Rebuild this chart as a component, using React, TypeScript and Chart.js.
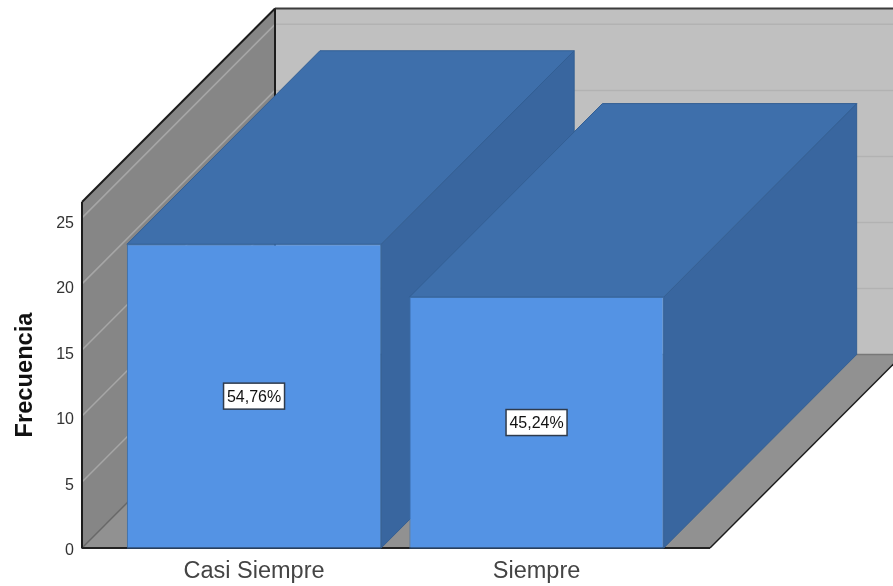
import React, { useEffect, useRef } from "react";
import { Chart, registerables } from "chart.js";

Chart.register(...registerables);

const categories = ["Casi Siempre", "Siempre"];
const frequencies = [23, 19];
const percentLabels = ["54,76%", "45,24%"];
const frequencyTicks = [0, 5, 10, 15, 20, 25];

const DEPTH_X = 193;
const DEPTH_Y = 193.5;
const FONT = "'Liberation Sans', Arial, sans-serif";

function fillPoly(ctx: CanvasRenderingContext2D, pts: number[][], fill: string, stroke?: string, lw = 1) {
  ctx.beginPath();
  pts.forEach(([x, y], i) => (i ? ctx.lineTo(x, y) : ctx.moveTo(x, y)));
  ctx.closePath();
  ctx.fillStyle = fill;
  ctx.fill();
  if (stroke) {
    ctx.strokeStyle = stroke;
    ctx.lineWidth = lw;
    ctx.stroke();
  }
}

function line(ctx: CanvasRenderingContext2D, x1: number, y1: number, x2: number, y2: number, color: string, lw: number) {
  ctx.beginPath();
  ctx.moveTo(x1, y1);
  ctx.lineTo(x2, y2);
  ctx.strokeStyle = color;
  ctx.lineWidth = lw;
  ctx.stroke();
}

// Draws the box the bars stand in, and the top and side faces of each bar.
const depthPlugin = {
  id: "depthPlugin",
  afterLayout(chart: any) {
    // Frequency labels sit slightly below their grid lines, more so higher up.
    chart.scales.y.getLabelItems().forEach((item: any) => {
      item.options.translation[1] += 2.6 + 0.13 * Number(item.label);
    });
  },
  beforeDatasetsDraw(chart: any) {
    const { ctx, chartArea, scales } = chart;
    const { left, right, top, bottom } = chartArea;
    const dx = DEPTH_X;
    const dy = DEPTH_Y;
    ctx.save();
    fillPoly(ctx, [[left + dx, top - dy], [right + dx, top - dy], [right + dx, bottom - dy], [left + dx, bottom - dy]], "#c0c0c0");
    fillPoly(ctx, [[left, bottom], [left, top], [left + dx, top - dy], [left + dx, bottom - dy]], "#868686");
    fillPoly(ctx, [[left, bottom], [left + dx, bottom - dy], [right + dx, bottom - dy], [right, bottom]], "#919191");

    frequencyTicks.slice(1).forEach((v) => {
      const y = scales.y.getPixelForValue(v);
      line(ctx, left, y, left + dx, y - dy, "#a6a6a6", 1.5);
      line(ctx, left + dx, y - dy, right + dx, y - dy, "#b2b2b2", 1.5);
    });
    line(ctx, left, bottom, left + dx, bottom - dy, "#686868", 1.5);
    line(ctx, left + dx, bottom - dy, right + dx, bottom - dy, "#787878", 1.5);

    line(ctx, left, top, left + dx, top - dy, "#1c1c1c", 2);
    line(ctx, left + dx, top - dy, right + dx, top - dy, "#3c3c3c", 2);
    line(ctx, left + dx, top - dy, left + dx, bottom - dy, "#1c1c1c", 2);
    line(ctx, left, bottom + 0.5, left, top, "#1c1c1c", 2);
    line(ctx, right, bottom, right + dx, bottom - dy, "#1c1c1c", 1.5);
    line(ctx, left, bottom, right, bottom, "#222222", 2);

    chart.getDatasetMeta(0).data.forEach((bar: any) => {
      const x0 = bar.x - bar.width / 2;
      const x1 = bar.x + bar.width / 2;
      const edge = "#335f94";
      fillPoly(ctx, [[x1, bar.y], [x1 + dx, bar.y - dy], [x1 + dx, bar.base - dy], [x1, bar.base]], "#39669f", edge);
      fillPoly(ctx, [[x0, bar.y], [x1, bar.y], [x1 + dx, bar.y - dy], [x0 + dx, bar.y - dy]], "#3e6fab", edge);
    });
    ctx.restore();
  },
  afterDatasetsDraw(chart: any) {
    const { ctx } = chart;
    ctx.save();
    chart.getDatasetMeta(0).data.forEach((bar: any, i: number) => {
      line(ctx, bar.x - bar.width / 2, bar.base, bar.x + bar.width / 2, bar.base, "#2c4a70", 1.5);

      const cy = (bar.y + bar.base) / 2;
      const w = 61;
      const h = 26;
      ctx.fillStyle = "#ffffff";
      ctx.fillRect(bar.x - w / 2, cy - h / 2, w, h);
      ctx.strokeStyle = "#2f3b4c";
      ctx.lineWidth = 1.5;
      ctx.strokeRect(bar.x - w / 2, cy - h / 2, w, h);
      ctx.font = `16px ${FONT}`;
      ctx.textAlign = "center";
      ctx.textBaseline = "middle";
      ctx.fillStyle = "#111111";
      ctx.fillText(percentLabels[i], bar.x, cy + 1);
    });
    ctx.restore();
  },
};

export default function App() {
  const ref = useRef<HTMLCanvasElement>(null);
  useEffect(() => {
    const chart = new Chart(ref.current!, {
      type: "bar",
      data: {
        datasets: [
          {
            data: categories.map((_, i) => ({ x: i + 1, y: frequencies[i] })),
            backgroundColor: "#5493e4",
            borderColor: "#3d6ea8",
            borderWidth: 1,
            barPercentage: 0.9,
            categoryPercentage: 1,
          },
        ],
      },
      options: {
        responsive: false,
        animation: false,
        layout: { padding: { top: 202, right: 183, left: 0, bottom: 0 } },
        plugins: { legend: { display: false }, tooltip: { enabled: false } },
        scales: {
          x: {
            type: "linear",
            offset: false,
            min: 0.391,
            max: 2.614,
            grid: { display: false },
            border: { display: false },
            afterBuildTicks: (s: any) => {
              s.ticks = categories.map((_, i) => ({ value: i + 1 }));
            },
            afterFit: (s: any) => {
              s.height = 38;
            },
            ticks: {
              autoSkip: false,
              maxRotation: 0,
              padding: 1,
              color: "#444444",
              font: { family: FONT, size: 23.5 },
              callback: (v: any) => categories[Number(v) - 1],
            },
          },
          y: {
            min: 0,
            max: 26.2,
            grid: { display: false },
            border: { display: false },
            afterFit: (s: any) => {
              s.width = 82;
            },
            ticks: {
              stepSize: 5,
              includeBounds: false,
              padding: 0,
              color: "#333333",
              font: { family: FONT, size: 16 },
            },
            title: {
              display: true,
              text: "Frecuencia",
              color: "#111111",
              font: { family: FONT, size: 23.7, weight: "bold" },
              padding: { top: 11, bottom: 0 },
            },
          },
        },
      },
      plugins: [depthPlugin],
    } as any);
    return () => chart.destroy();
  }, []);
  return (
    <canvas
      ref={ref}
      width={893}
      height={586}
      style={{ position: "absolute", left: 0, top: 0, display: "block" }}
    />
  );
}
